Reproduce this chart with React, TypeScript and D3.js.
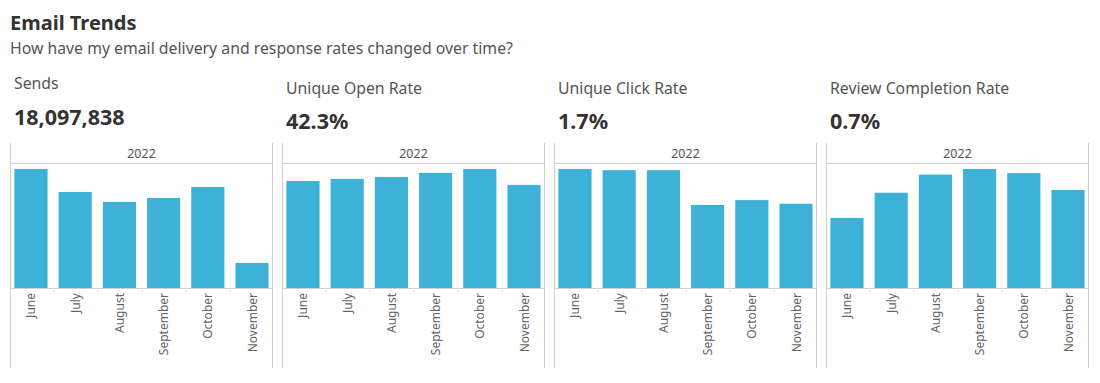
import React from "react";
import * as d3 from "d3";

const months = ["June", "July", "August", "September", "October", "November"];
const metricNames = ["Sends", "Unique Open Rate", "Unique Click Rate", "Review Completion Rate"];
const metricTotals = ["18,097,838", "42.3%", "1.7%", "0.7%"];
const yearLabel = "2022";

const sends = [4165000, 3360000, 3010000, 3150000, 3535000, 877838];
const openRate = [40.9, 41.7, 42.4, 44.0, 45.5, 39.4];
const clickRate = [1.95, 1.93, 1.93, 1.36, 1.44, 1.38];
const reviewRate = [0.5, 0.68, 0.81, 0.85, 0.82, 0.7];

const seriesList = [sends, openRate, clickRate, reviewRate];

const W = 1100;
const H = 383;
const BAR = "#3db1d7";
const LINE = "#cfcfcf";
const FONT = "'Noto Sans', 'Open Sans', sans-serif";

const panelX0 = 10;
const panelStep = 272;
const panelW = 263;
const panelTop = 143;
const headerY = 163;
const baseY = 288;
const panelBottom = 368;

function Panel({ idx }: { idx: number }) {
  const data = seriesList[idx];
  const left = panelX0 + idx * panelStep;
  const x = d3.scaleBand<string>().domain(months).range([left, left + panelW]).paddingInner(0.25).paddingOuter(0.1);
  const y = d3.scaleLinear().domain([0, (d3.max(data) as number) * 1.05]).range([baseY, headerY]);
  const step = x.step();
  const labelY = idx === 0 ? 89 : 94;
  const valueY = idx === 0 ? 125 : 129;
  const textX = left + 4;
  return (
    <g>
      <text x={textX} y={labelY} fontFamily={FONT} fontSize={15.8} fill="#555">{metricNames[idx]}</text>
      <text x={textX} y={valueY} fontFamily={FONT} fontSize={21.5} fontWeight="bold" fill="#333">{metricTotals[idx]}</text>
      <line x1={left + 0.5} x2={left + 0.5} y1={panelTop} y2={panelBottom} stroke={LINE} />
      <line x1={left + panelW - 0.5} x2={left + panelW - 0.5} y1={panelTop} y2={panelBottom} stroke={LINE} />
      <line x1={left} x2={left + panelW} y1={headerY + 0.5} y2={headerY + 0.5} stroke={LINE} />
      <text x={left + panelW / 2} y={158} textAnchor="middle" fontFamily={FONT} fontSize={12.5} fill="#555">{yearLabel}</text>
      {months.map((m, i) => (
        <rect key={m} x={x(m)} y={y(data[i])} width={x.bandwidth()} height={baseY - y(data[i])} fill={BAR} />
      ))}
      <line x1={left} x2={left + panelW} y1={baseY + 0.5} y2={baseY + 0.5} stroke={LINE} />
      {months.slice(1).map((m) => {
        const sx = Math.round((x(m) as number) - (step - x.bandwidth()) / 2) + 0.5;
        return <line key={"t" + m} x1={sx} x2={sx} y1={baseY} y2={baseY + 5} stroke="#e4e4e4" />;
      })}
      {months.map((m) => {
        const cx = (x(m) as number) + x.bandwidth() / 2;
        return (
          <text key={"l" + m} transform={`translate(${cx + 4.5},${293}) rotate(-90)`} textAnchor="end" fontFamily={FONT} fontSize={12} fill="#666">
            {m}
          </text>
        );
      })}
    </g>
  );
}

export default function App() {
  return (
    <svg width={W} height={H} style={{ position: "absolute", left: 0, top: 0, background: "#fff" }}>
      <text x={10} y={30} fontFamily={FONT} fontSize={20} fontWeight="bold" fill="#333">Email Trends</text>
      <text x={10} y={54} fontFamily={FONT} fontSize={15.8} fill="#555">How have my email delivery and response rates changed over time?</text>
      {metricNames.map((_, i) => (
        <Panel key={i} idx={i} />
      ))}
    </svg>
  );
}
